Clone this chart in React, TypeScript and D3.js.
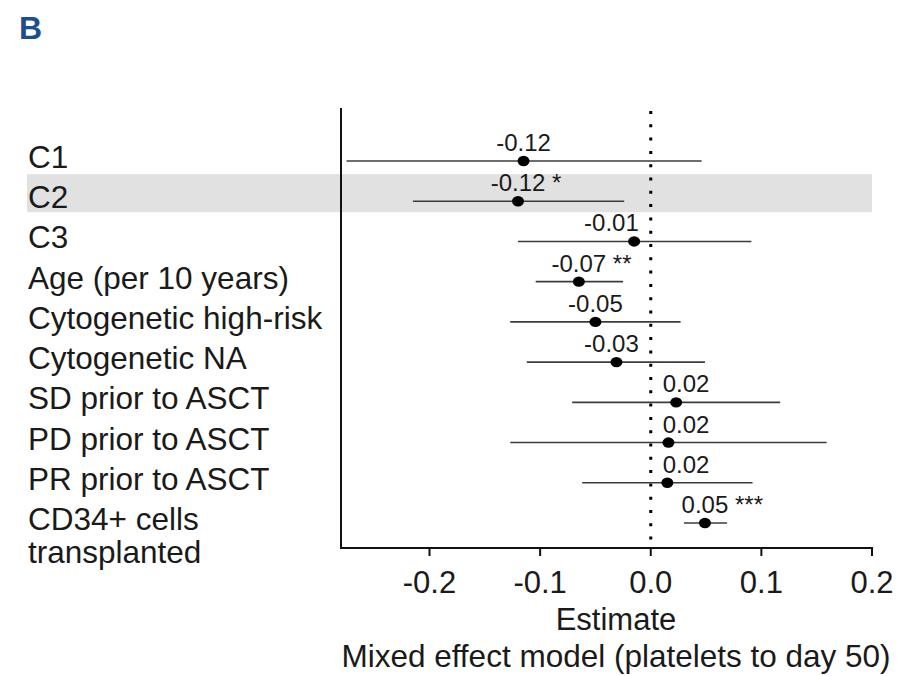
import React from "react";
import * as d3 from "d3";

// forest plot: mixed effect model, platelets to day 50
const terms = [
  "C1",
  "C2",
  "C3",
  "Age (per 10 years)",
  "Cytogenetic high-risk",
  "Cytogenetic NA",
  "SD prior to ASCT",
  "PD prior to ASCT",
  "PR prior to ASCT",
  "CD34+ cells\ntransplanted",
];
const estimates = [-0.115, -0.12, -0.015, -0.065, -0.05, -0.031, 0.023, 0.016, 0.015, 0.049];
const lower = [-0.275, -0.215, -0.12, -0.104, -0.127, -0.112, -0.071, -0.127, -0.062, 0.03];
const upper = [0.046, -0.024, 0.091, -0.025, 0.027, 0.049, 0.117, 0.159, 0.092, 0.069];
const estLabels = ["-0.12", "-0.12", "-0.01", "-0.07", "-0.05", "-0.03", "0.02", "0.02", "0.02", "0.05"];
const stars = ["", "*", "", "**", "", "", "", "", "", "***"];
const highlighted = ["C2"];
const xTicks = [-0.2, -0.1, 0, 0.1, 0.2];

const width = 915;
const height = 676;
const margin = { top: 108, bottom: 128, left: 341, right: 43 };
const font = "'Liberation Sans', Arial, Helvetica, sans-serif";
const labelSize = 24;

let ctx: CanvasRenderingContext2D | null = null;
const textWidth = (s: string, size: number) => {
  if (!ctx) ctx = document.createElement("canvas").getContext("2d");
  if (!ctx) return s.length * size * 0.5;
  ctx.font = `${size}px ${font}`;
  return ctx.measureText(s).width;
};

export default function App() {
  const x = d3
    .scaleLinear()
    .domain([-0.28, 0.2])
    .range([margin.left, width - margin.right]);
  const y = d3
    .scalePoint()
    .domain(terms)
    .range([161, 523]);
  const axisY = height - margin.bottom;
  const fmt = (v: number) => d3.format(".1f")(v).replace("\u2212", "-");

  // keep estimate labels clear of the dotted zero line
  const labelX = estimates.map((e, i) => {
    const w = textWidth(estLabels[i], labelSize);
    let c = x(e);
    const gap = 12;
    if (e < 0 && c + w / 2 > x(0) - gap) c = x(0) - gap - w / 2;
    if (e > 0 && c - w / 2 < x(0) + gap) c = x(0) + gap + w / 2;
    return c - w / 2;
  });

  return (
    <svg
      width={width}
      height={height}
      style={{ position: "absolute", left: 0, top: 0, background: "#fff" }}
      fontFamily={font}
    >
      <text x={19} y={39} fontSize={32} fontWeight="bold" fill="#1d4f8a">
        B
      </text>

      {highlighted.map((t) => (
        <rect
          key={t}
          x={27}
          y={(y(t) as number) - 27}
          width={x(0.2) - 27}
          height={38}
          fill="#e1e1e1"
        />
      ))}

      {terms.map((t) => {
        const lines = t.split("\n");
        return (
          <text key={t} x={28} y={(y(t) as number) + 7} fontSize={31.5} fill="#1a1a1a">
            {lines.map((l, j) => (
              <tspan key={j} x={28} dy={j === 0 ? 0 : 33}>
                {l}
              </tspan>
            ))}
          </text>
        );
      })}

      {/* axes */}
      <line x1={margin.left} x2={margin.left} y1={margin.top} y2={axisY + 1} stroke="#111" strokeWidth={2} />
      <line x1={margin.left} x2={x(0.2) + 1} y1={axisY} y2={axisY} stroke="#111" strokeWidth={2} />
      {xTicks.map((t) => (
        <g key={t}>
          <line x1={x(t)} x2={x(t)} y1={axisY} y2={axisY + 8} stroke="#111" strokeWidth={2} />
          <text x={x(t)} y={593} textAnchor="middle" fontSize={31} fill="#1a1a1a">
            {fmt(t)}
          </text>
        </g>
      ))}

      <line
        x1={x(0)}
        x2={x(0)}
        y1={111}
        y2={axisY}
        stroke="#000"
        strokeWidth={3}
        strokeDasharray="3 10.3"
      />

      {terms.map((t, i) => {
        const cy = y(t) as number;
        return (
          <g key={t}>
            <line x1={x(lower[i])} x2={x(upper[i])} y1={cy} y2={cy} stroke="#3c3c3c" strokeWidth={1.6} />
            <ellipse cx={x(estimates[i])} cy={cy} rx={6} ry={5.2} fill="#000" />
            <text x={labelX[i]} y={cy - 10} fontSize={labelSize} fill="#1a1a1a">
              {estLabels[i] + (stars[i] ? " " + stars[i] : "")}
            </text>
          </g>
        );
      })}

      <text x={616} y={630} textAnchor="middle" fontSize={31} fill="#1a1a1a">
        Estimate
      </text>
      <text x={616} y={667} textAnchor="middle" fontSize={31.5} fill="#1a1a1a">
        Mixed effect model (platelets to day 50)
      </text>
    </svg>
  );
}
